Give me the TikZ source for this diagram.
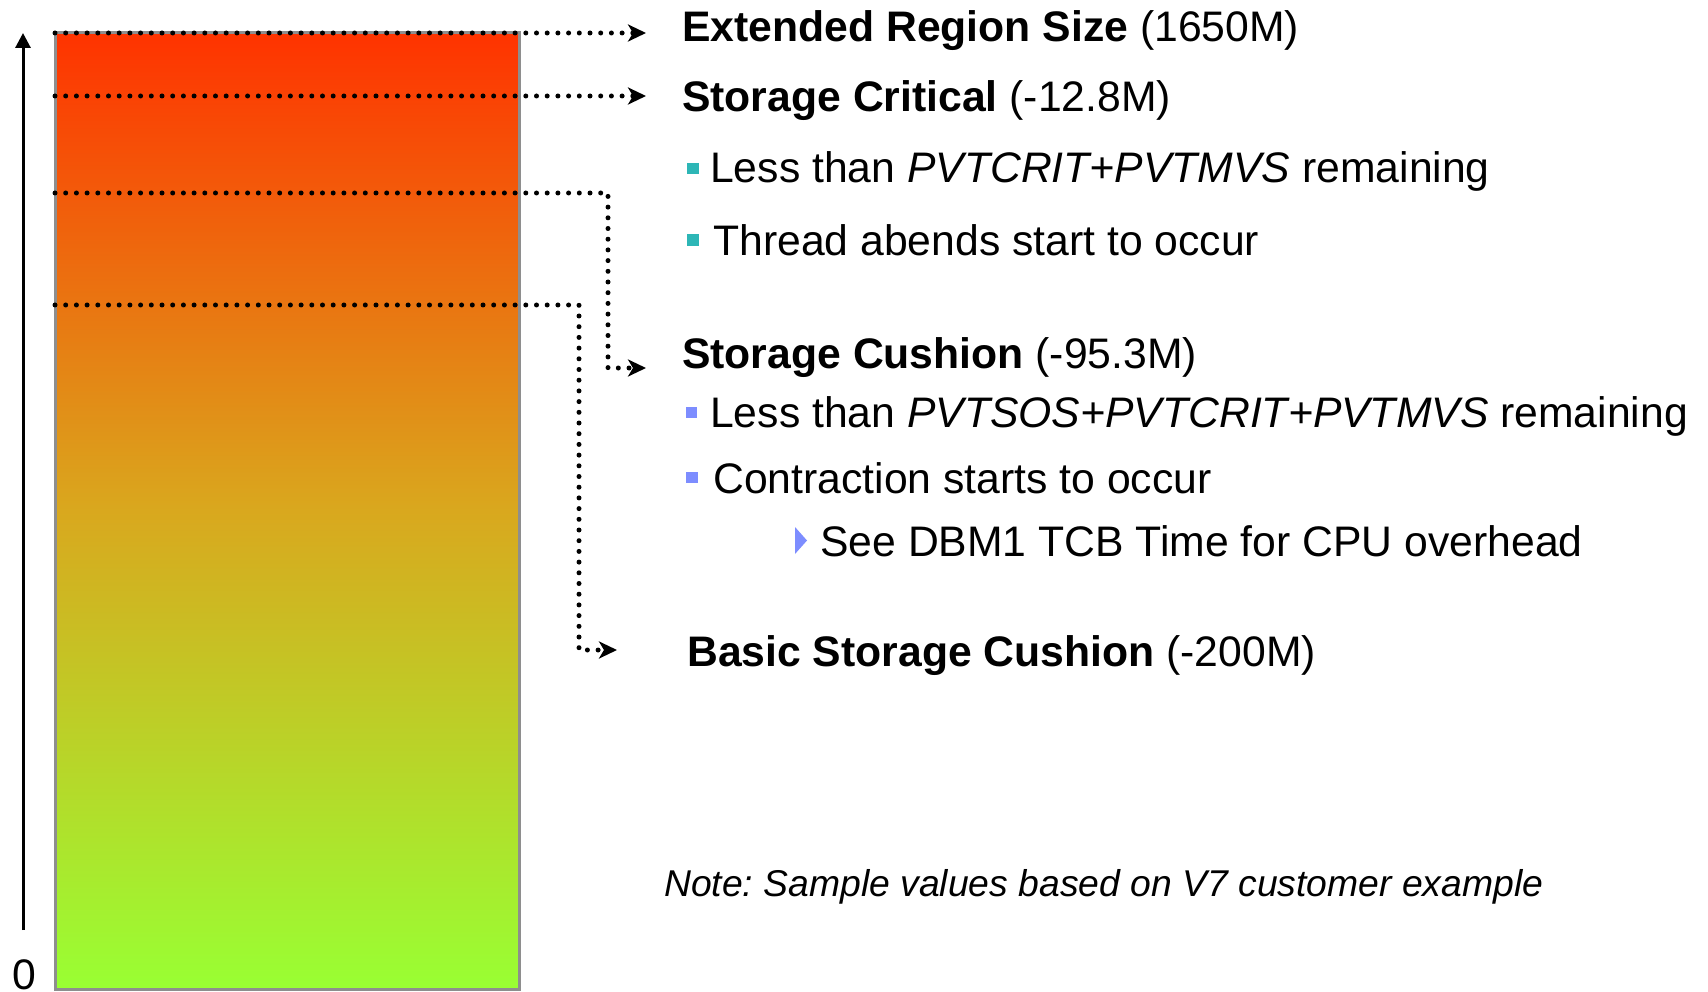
\documentclass[tikz,border=0pt]{standalone}
\usepackage{fontspec}
\setmainfont{Liberation Sans}
\usetikzlibrary{arrows.meta}
\frenchspacing
\definecolor{barred}{HTML}{FF3300}
\definecolor{barmid}{HTML}{D9A81E}
\definecolor{bargreen}{HTML}{99FF33}
\definecolor{bargray}{HTML}{8E8E8E}
\definecolor{teal}{HTML}{2DB6B6}
\definecolor{bblue}{HTML}{7D8DFF}
\tikzset{
  lbl/.style={anchor=base west, inner sep=0pt, font=\fontsize{42.7}{50}\selectfont},
  notelbl/.style={anchor=base west, inner sep=0pt, font=\fontsize{37.3}{44}\selectfont\itshape},
  dots/.style={line width=5pt, line cap=round, dash pattern=on 0pt off 10.7pt,
    -{Stealth[length=18pt,width=17pt,inset=5pt]}},
  tealsq/.style={fill=teal},
  bluesq/.style={fill=bblue},
}
\begin{document}
\frenchspacing
\begin{tikzpicture}[x=1pt,y=-1pt]
\useasboundingbox (0,0) rectangle (1708,992);
\clip (0,0) rectangle (1708,992);
% bar
\node[draw=bargray, line width=3pt, minimum width=464pt, minimum height=956pt,
  inner sep=0pt, top color=barred, bottom color=bargreen, middle color=barmid] (bar) at (287,511) {};
% axis
\coordinate (ax0) at (23,930);
\coordinate (ax1) at (23,33);
\draw[line width=3pt, -{Triangle[length=15pt,width=15pt]}] (ax0) -- (ax1);
\node[lbl] (zero) at (12,989) {0};
% texts
\node[lbl] (ext) at (682,42) {\textbf{Extended Region Size} (1650M)};
\node[lbl] (crit) at (682,112) {\textbf{Storage Critical} (-12.8M)};
\node[lbl] (c1) at (710,183) {Less than \textit{PVTCRIT+PVTMVS} remaining};
\node[lbl] (c2) at (713,255.5) {Thread abends start to occur};
\node[lbl] (cush) at (682,368) {\textbf{Storage Cushion} (-95.3M)};
\node[lbl] (s1) at (710,427) {Less than \textit{PVTSOS+PVTCRIT+PVTMVS} remaining};
\node[lbl] (s2) at (713,493) {Contraction starts to occur};
\node[lbl] (s3) at (820,556) {See DBM1 TCB Time for CPU overhead};
\node[lbl] (basic) at (687,666) {\textbf{Basic Storage Cushion} (-200M)};
\node[notelbl] (note) at (664,896) {Note: Sample values based on V7 customer example};
% bullets
\fill[tealsq] (687,163.5) rectangle (698.5,174.5);
\fill[tealsq] (687,234) rectangle (699,246);
\fill[bluesq] (686,406.5) rectangle (697,417.5);
\fill[bluesq] (686,472) rectangle (697.5,483);
\fill[bblue] (795,527) -- (807,540.5) -- (795,554) -- cycle;
% dotted connectors
\coordinate (a1) at (55,33);  \coordinate (e1) at (646,33);
\coordinate (a2) at (55,96);  \coordinate (e2) at (646,96);
\coordinate (a3) at (55,193); \coordinate (k3) at (608,193); \coordinate (m3) at (608,368); \coordinate (e3) at (646,368);
\coordinate (a4) at (55,305); \coordinate (k4) at (579,305); \coordinate (m4) at (579,650); \coordinate (e4) at (617,650);
\draw[dots] (a1) -- (e1);
\draw[dots] (a2) -- (e2);
\draw[dots] (a3) -- (k3) -- (m3) -- (e3);
\draw[dots] (a4) -- (k4) -- (m4) -- (e4);
\end{tikzpicture}
\end{document}
